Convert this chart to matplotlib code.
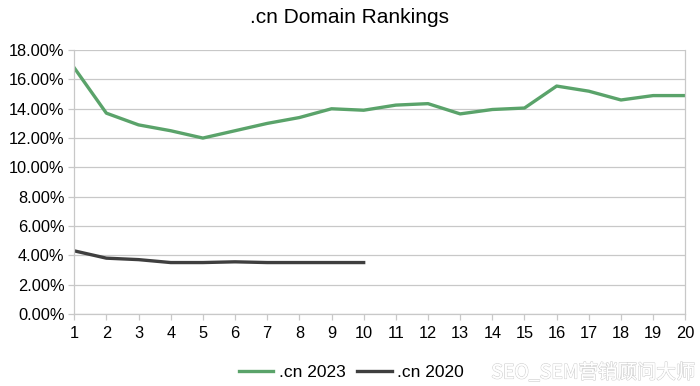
import matplotlib
matplotlib.use("Agg")
import matplotlib.pyplot as plt
import matplotlib.patheffects as pe
from matplotlib.ticker import FuncFormatter

### Data ###
ranks = list(range(1, 21))
cn2023 = [16.8, 13.7, 12.9, 12.5, 12.0, 12.5, 13.0, 13.4, 14.0, 13.9,
          14.25, 14.35, 13.65, 13.95, 14.05, 15.55, 15.2, 14.6, 14.9, 14.9]
ranks2020 = list(range(1, 11))
cn2020 = [4.3, 3.8, 3.7, 3.5, 3.5, 3.55, 3.5, 3.5, 3.5, 3.5]
yticks = [0, 2, 4, 6, 8, 10, 12, 14, 16, 18]
### End data ###

plt.rcParams['font.family'] = ['Liberation Sans', 'DejaVu Sans']

fig = plt.figure(figsize=(7, 3.86), dpi=100)
ax = fig.add_axes([0.106, 0.187, 0.873, 0.683])

green = '#5aa36a'
dark = '#3f3f3f'
grey = '#c8c8c8'

l1, = ax.plot(ranks, cn2023, color=green, lw=2.4, solid_joinstyle='round', label='.cn 2023')
l2, = ax.plot(ranks2020, cn2020, color=dark, lw=2.4, solid_joinstyle='round', label='.cn 2020')

ax.set_xlim(1, 20)
ax.set_ylim(0, 18)
ax.set_xticks(ranks)
ax.set_yticks(yticks)
ax.yaxis.set_major_formatter(FuncFormatter(lambda v, p: f"{v:.2f}%"))
ax.grid(True, axis='y', color=grey, lw=0.9)
ax.set_axisbelow(True)

for s in ('left', 'bottom', 'right'):
    ax.spines[s].set_color(grey)
    ax.spines[s].set_linewidth(0.9)
ax.spines['top'].set_visible(False)
ax.tick_params(axis='both', colors=grey, length=4, width=0.9, labelsize=11.8, labelcolor='black')
ax.tick_params(axis='y', pad=3)
ax.tick_params(axis='x', pad=5)

fig.suptitle('.cn Domain Rankings', x=0.5, y=0.978, fontsize=15)

fig.legend(handles=[l1, l2], loc='center', bbox_to_anchor=(0.502, 0.036), ncol=2,
           frameon=False, fontsize=12.5, handlelength=2.0, columnspacing=0.7, handletextpad=0.3)

# watermark, hollow lettering
wm = fig.text(0.848, 0.034, 'SEO_SEM营销顾问大师', ha='center', va='center', fontsize=14,
              color='white', family=['Noto Sans CJK SC', 'DejaVu Sans'])
wm.set_path_effects([pe.withStroke(linewidth=1.0, foreground='#d2d2d2'), pe.Normal()])

fig.savefig('out.png', dpi=100)
